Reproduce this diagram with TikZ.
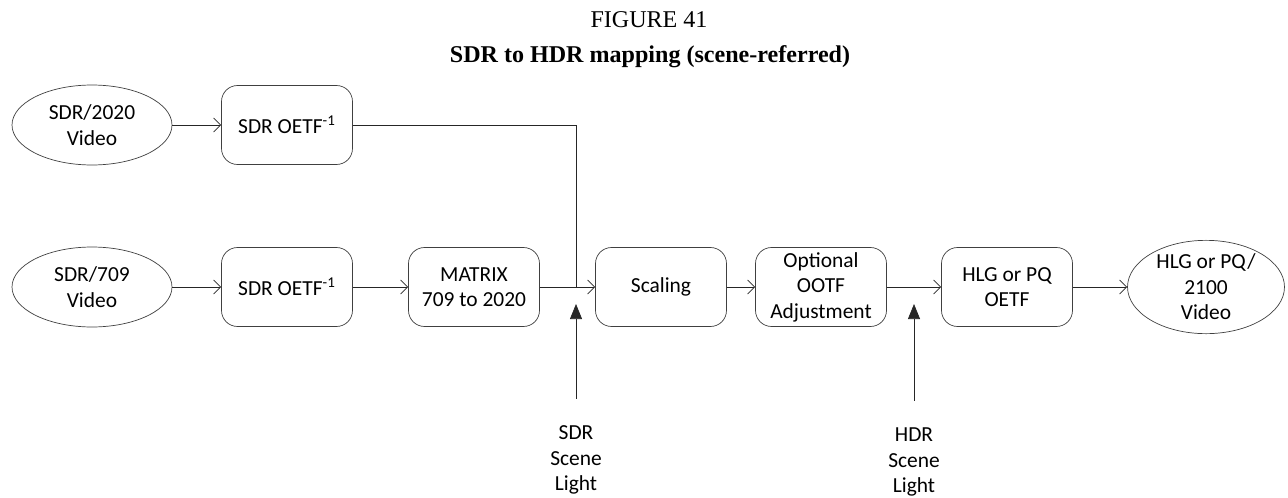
\documentclass[tikz,border=0pt]{standalone}
\usepackage{fontspec}
\setmainfont{Carlito}
\newfontfamily\titlefont{Liberation Serif}
\usetikzlibrary{arrows.meta,shapes.geometric}

\begin{document}
\begin{tikzpicture}[
    x=0.02cm, y=-0.02cm,
    every node/.style={font=\fontsize{12.2}{14.5}\selectfont, align=center},
    block/.style={draw=black!75, rectangle, rounded corners=0.32cm,
                  minimum width=2.62cm, minimum height=1.58cm, inner sep=1pt},
    video/.style={draw=black!75, ellipse, minimum width=3.2cm,
                  minimum height=1.6cm, inner sep=0pt},
    flow/.style={draw=black!85, -{Straight Barb[length=4pt,width=8pt]}},
    light/.style={draw=black!85, -{Triangle[length=0.3cm,width=0.24cm]}},
    lbl/.style={inner sep=1pt}
]
\useasboundingbox (0,0) rectangle (1288,497);

% Titel
\node[font=\titlefont\fontsize{13.7}{15}\selectfont] (fig) at (649,20) {FIGURE 41};
\node[font=\titlefont\bfseries\fontsize{13.7}{15}\selectfont] (title) at (650,57)
    {SDR to HDR mapping (scene-referred)};

% Noduri
\node[video] (sdr2020)  at (92,125)   {SDR/2020\\Video};
\node[block] (oetftop)  at (287,125)  {SDR OETF\textsuperscript{-1}};
\node[video] (sdr709)   at (92,287)   {SDR/709\\Video};
\node[block] (oetfbot)  at (287,287)  {SDR OETF\textsuperscript{-1}};
\node[block] (matrix)   at (474,287)  {MATRIX\\709 to 2020};
\node[block] (scaling)  at (661,287)  {Scaling};
\node[block] (ootf)     at (821,287)  {Optional\\OOTF\\Adjustment};
\node[block] (hdroetf)  at (1007,287) {HLG or PQ\\OETF};
\node[video, minimum width=3.14cm] (hdrvideo) at (1206,287) {HLG or PQ/\\2100\\Video};
\node[lbl] (sdrlight)   at (576,460)  {SDR\\Scene\\Light};
\node[lbl] (hdrlight)   at (914,462)  {HDR\\Scene\\Light};

\coordinate (join)   at (576,287);
\coordinate (sdrtip) at (576,304);
\coordinate (hdrtip) at (914,304);

% Legaturi
\draw[flow] (sdr2020) -- (oetftop);
\draw[draw=black!85] (oetftop.east) -| (join);
\draw[flow] (sdr709) -- (oetfbot);
\draw[flow] (oetfbot) -- (matrix);
\draw[flow] (matrix) -- (scaling);
\draw[flow] (scaling) -- (ootf);
\draw[flow] (ootf) -- (hdroetf);
\draw[flow] (hdroetf) -- (hdrvideo);

% Scene light
\draw[light, shorten <=0.5cm] (sdrlight.north) -- (sdrtip);
\draw[light, shorten <=0.5cm] (hdrlight.north) -- (hdrtip);

\end{tikzpicture}
\end{document}
